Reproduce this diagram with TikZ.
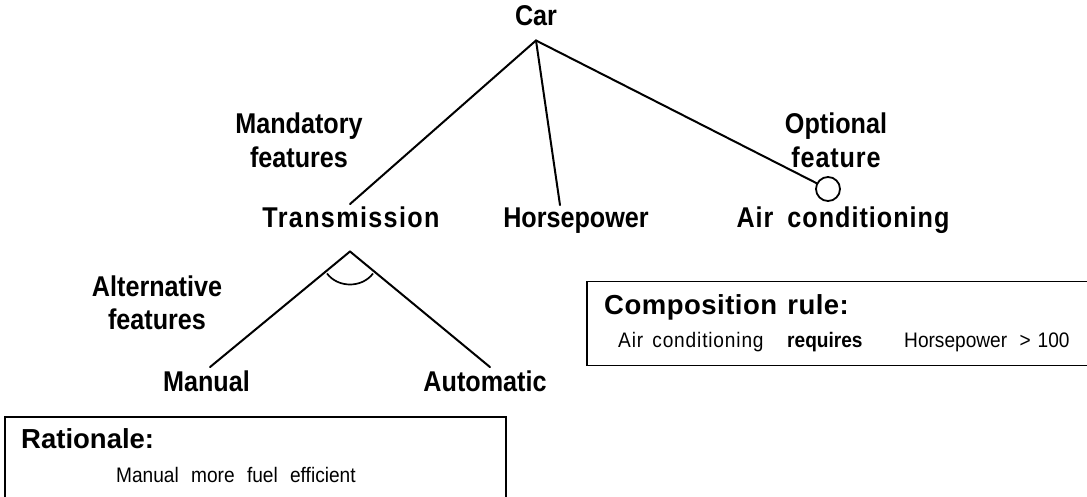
\documentclass[tikz,border=0pt]{standalone}
\usepackage{fontspec}
\setmainfont{Liberation Sans}
\newfontfamily\tallfont[FakeStretch=0.88]{Liberation Sans}
\newfontfamily\smallfont[FakeStretch=0.91]{Liberation Sans}
\newcommand{\lsp}[1]{\addfontfeature{LetterSpace=#1}}
\begin{document}
\begin{tikzpicture}[x=1pt,y=-1pt,
 lab/.style={font=\fontsize{28.6}{34.5}\selectfont\tallfont\bfseries,inner sep=0pt,align=center,anchor=base},
 small/.style={font=\fontsize{21}{23}\selectfont\smallfont,inner sep=0pt,anchor=base west},
 smallb/.style={small,font=\fontsize{21}{23}\selectfont\smallfont\bfseries},
 head/.style={font=\fontsize{27.5}{33}\selectfont\bfseries,inner sep=0pt,anchor=base west},
 conn/.style={draw=black,line width=2pt,line cap=round},
 thin arc/.style={draw=black,line width=1.7pt},
 boxx/.style={draw=black,line width=1.5pt,fill=white,inner sep=0pt,anchor=north west}]
\useasboundingbox (0,0) rectangle (1087,497);
% boxes
\node[boxx,minimum width=501pt,minimum height=95pt] (ratbox) at (4,416) {};
\node[boxx,minimum width=510pt,minimum height=84pt] (compbox) at (586,280.5) {};
% tree labels
\node[lab] (car) at (536,26) {Car};
\node[lab] (mand) at (299,168) {Mandatory\\features};
\node[lab] (opt) at (836,168) {Optional\\\lsp{3}feature};
\node[lab] (trans) at (351,228) {\lsp{4.7}Transmission};
\node[lab] (hp) at (576,228) {Horsepower};
\node[lab] (air) at (843,228) {\lsp{3.5}Air\hspace{6pt} conditioning};
\node[lab] (alt) at (157,329.5) {Alternative\\[-1.5pt]features};
\node[lab] (man) at (206.5,391) {Manual};
\node[lab] (auto) at (485,391) {Automatic};
% box text
\node[head] (rathead) at (21,448.5) {Rationale:};
\node[small] (rattext) at (116,482) {Manual\hspace{7pt} more\hspace{7pt} fuel\hspace{7pt} efficient};
\node[head] (comphead) at (604,314) {\lsp{1.8}Composition\hspace{2pt} rule:};
\node[small] (c1) at (618,347) {\lsp{4}Air\hspace{3pt} conditioning};
\node[smallb] (c2) at (787,347) {requires};
\node[small] (c3) at (904,347) {Horsepower\hspace{7pt} >\hspace{7pt}100};
% connector anchors
\coordinate (apex) at ([yshift=-14pt]car.south);
\coordinate (altapex) at ([xshift=-1pt,yshift=-23pt]trans.south);
\node[draw=black,line width=1.8pt,circle,minimum size=24pt,inner sep=0pt,fill=white] (optc) at (828,189) {};
% connectors
\draw[conn] (apex) -- ([xshift=-1pt,yshift=3pt]trans.north);
\draw[conn] (apex) -- ([xshift=-16pt,yshift=3pt]hp.north);
\draw[conn] (apex) -- (optc);
\draw[conn] (altapex) -- ([xshift=3.5pt,yshift=3pt]man.north);
\draw[conn] (altapex) -- ([xshift=5pt,yshift=3pt]auto.north);
\draw[thin arc] ([xshift=-23pt,yshift=-22pt]altapex) .. controls ([xshift=-12pt,yshift=-36.7pt]altapex) and ([xshift=12pt,yshift=-36.7pt]altapex) .. ([xshift=23pt,yshift=-22pt]altapex);
\end{tikzpicture}
\end{document}
